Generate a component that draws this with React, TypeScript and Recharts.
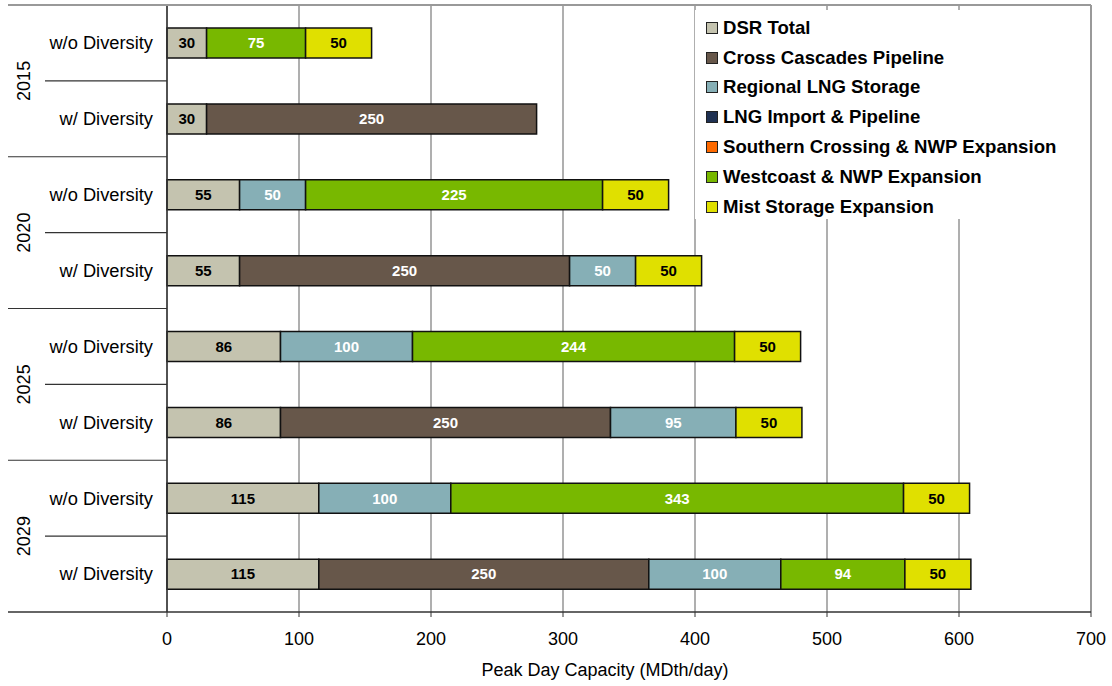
import {
  BarChart,
  Bar,
  XAxis,
  YAxis,
  CartesianGrid,
  LabelList,
  ReferenceLine,
} from "recharts";

const FONT = '"Liberation Sans", Arial, sans-serif';

const years = ["2015", "2020", "2025", "2029"];
const scenarios = ["w/o Diversity", "w/ Diversity"];

// one value per row, top to bottom: 2015 w/o, 2015 w/, 2020 w/o, ...
const dsrTotal = [30, 30, 55, 55, 86, 86, 115, 115];
const crossCascades = [0, 250, 0, 250, 0, 250, 0, 250];
const regionalLng = [0, 0, 50, 50, 100, 95, 100, 100];
const lngImport = [0, 0, 0, 0, 0, 0, 0, 0];
const southernCrossing = [0, 0, 0, 0, 0, 0, 0, 0];
const westcoast = [75, 0, 225, 0, 244, 0, 343, 94];
const mistStorage = [50, 0, 50, 50, 50, 50, 50, 50];

const xTicks = [0, 100, 200, 300, 400, 500, 600, 700];

const series = [
  { key: "dsr", name: "DSR Total", values: dsrTotal, color: "#c4c3af", text: "#000" },
  { key: "cc", name: "Cross Cascades Pipeline", values: crossCascades, color: "#67574a", text: "#fff" },
  { key: "rlng", name: "Regional LNG Storage", values: regionalLng, color: "#86afb6", text: "#fff" },
  { key: "lngi", name: "LNG Import & Pipeline", values: lngImport, color: "#1f3152", text: "#fff" },
  { key: "sc", name: "Southern Crossing & NWP Expansion", values: southernCrossing, color: "#ff6a00", text: "#fff" },
  { key: "wc", name: "Westcoast & NWP Expansion", values: westcoast, color: "#78b800", text: "#fff" },
  { key: "mist", name: "Mist Storage Expansion", values: mistStorage, color: "#e0e000", text: "#000" },
];

const rows = years.flatMap((year, yi) =>
  scenarios.map((scenario, si) => {
    const idx = yi * scenarios.length + si;
    const row: Record<string, string | number> = { id: `${year} ${scenario}`, year, scenario };
    series.forEach((s) => {
      row[s.key] = s.values[idx];
    });
    return row;
  })
);

const W = 1112;
const H = 686;
const MARGIN = { top: 5, right: 21, left: 0, bottom: 0 };
const Y_AXIS_W = 167;
const X_AXIS_H = 74;
const PLOT_RIGHT = W - MARGIN.right;
const BAND = (H - MARGIN.top - X_AXIS_H) / rows.length;

// scenario label per row, plus year labels and group separators on the left
function CategoryTick(props: any) {
  const { x, y, index } = props;
  const row = rows[index];
  if (!row) return null;
  const top = y - BAND / 2;
  const bottom = y + BAND / 2;
  const groupStart = index % scenarios.length === 0;
  const last = index === rows.length - 1;
  return (
    <g>
      {index === 0 ? (
        <line x1={8} x2={PLOT_RIGHT} y1={top} y2={top} stroke="#999" strokeWidth={2} />
      ) : (
        <line
          x1={groupStart ? 8 : 45}
          x2={Y_AXIS_W}
          y1={top}
          y2={top}
          stroke="#333"
          strokeWidth={1.2}
        />
      )}
      {last && <line x1={8} x2={Y_AXIS_W} y1={bottom} y2={bottom} stroke="#333" strokeWidth={1.5} />}
      <text
        x={x - 6}
        y={y}
        dy="0.35em"
        textAnchor="end"
        fontFamily={FONT}
        fontSize={18.3}
        fill="#000"
      >
        {row.scenario}
      </text>
      {groupStart && (
        <text
          x={30}
          y={bottom}
          transform={`rotate(-90, 30, ${bottom})`}
          textAnchor="middle"
          fontFamily={FONT}
          fontSize={18}
          fill="#000"
        >
          {row.year}
        </text>
      )}
    </g>
  );
}

function LegendBox() {
  return (
    <div
      style={{
        position: "absolute",
        left: 695,
        top: 10,
        background: "#fff",
        width: 392,
        height: 209,
        boxSizing: "border-box",
        padding: "3px 0 0 11px",
        fontFamily: FONT,
        fontSize: 18.6,
        fontWeight: "bold",
        color: "#000",
        whiteSpace: "nowrap",
      }}
    >
      {series.map((s) => (
        <div key={s.key} style={{ display: "flex", alignItems: "center", height: 29.8 }}>
          <span
            style={{
              display: "inline-block",
              width: 10,
              height: 10,
              background: s.color,
              border: "1.5px solid #222",
              marginRight: 5,
            }}
          />
          <span>{s.name}</span>
        </div>
      ))}
    </div>
  );
}

export default function App() {
  return (
    <div style={{ position: "absolute", left: 0, top: 0, width: W, height: H, background: "#fff" }}>
      <BarChart width={W} height={H} data={rows} layout="vertical" margin={MARGIN} barSize={30}>
        <CartesianGrid horizontal={false} stroke="#7a7a7a" strokeWidth={1.2} />
        <XAxis
          type="number"
          domain={[0, 700]}
          ticks={xTicks}
          height={X_AXIS_H}
          tickSize={5}
          tickMargin={15}
          axisLine={{ stroke: "#333", strokeWidth: 1.5 }}
          tickLine={{ stroke: "#333" }}
          tick={{ fill: "#000", fontSize: 18, fontFamily: FONT }}
          label={{
            value: "Peak Day Capacity (MDth/day)",
            position: "insideBottom",
            offset: 10,
            dx: -24,
            fill: "#000",
            fontSize: 18,
            fontFamily: FONT,
          }}
        />
        <YAxis
          type="category"
          dataKey="id"
          width={Y_AXIS_W}
          tickLine={false}
          axisLine={{ stroke: "#333", strokeWidth: 1.5 }}
          tick={CategoryTick}
          interval={0}
        />
        <ReferenceLine x={700} stroke="#999" strokeWidth={2} />
        {series.map((s) => (
          <Bar
            key={s.key}
            dataKey={s.key}
            name={s.name}
            stackId="cap"
            fill={s.color}
            stroke="#111"
            strokeWidth={1.5}
            isAnimationActive={false}
          >
            <LabelList
              dataKey={s.key}
              position="center"
              fill={s.text}
              fontSize={15}
              fontWeight="bold"
              fontFamily={FONT}
              formatter={(v: any) => (v ? v : "")}
            />
          </Bar>
        ))}
      </BarChart>
      <LegendBox />
    </div>
  );
}
